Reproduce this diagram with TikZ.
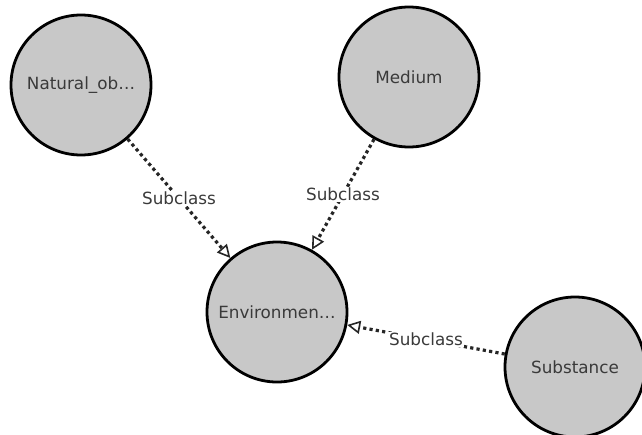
\documentclass[tikz,border=0pt]{standalone}
\usepackage{fontspec}
\setmainfont{DejaVu Sans}
\usetikzlibrary{arrows.meta}
\definecolor{nodefill}{HTML}{C8C8C8}
\definecolor{txt}{HTML}{3A3A3A}
\tikzset{
  concept/.style={circle, draw=black, line width=2.8pt, fill=nodefill, minimum size=140pt, inner sep=0pt, text=txt, font=\fontsize{16.8}{19}\selectfont},
  subof/.style={line width=3.2pt, dash pattern=on 3.2pt off 3.2pt, draw=black!85,
    -{Triangle[open, length=13pt, width=13pt, line width=1.6pt]}},
  elabel/.style={fill=white, text=txt, inner sep=1pt, font=\fontsize{16.8}{19}\selectfont}
}
\begin{document}
\begin{tikzpicture}[x=1pt,y=-1pt]
\useasboundingbox (0,0) rectangle (642,434);
\node[concept] (nat) at (81,85) {Natural\_ob\ldots};
\node[concept] (med) at (409,77) {Medium};
\node[concept] (env) at (277,312) {Environmen\ldots};
\node[concept] (sub) at (575,367) {Substance};
\draw[subof] (nat) -- node[elabel] {Subclass} (env);
\draw[subof] (med) -- node[elabel] {Subclass} (env);
\draw[subof] (sub) -- node[elabel] {Subclass} (env);
\end{tikzpicture}
\end{document}
